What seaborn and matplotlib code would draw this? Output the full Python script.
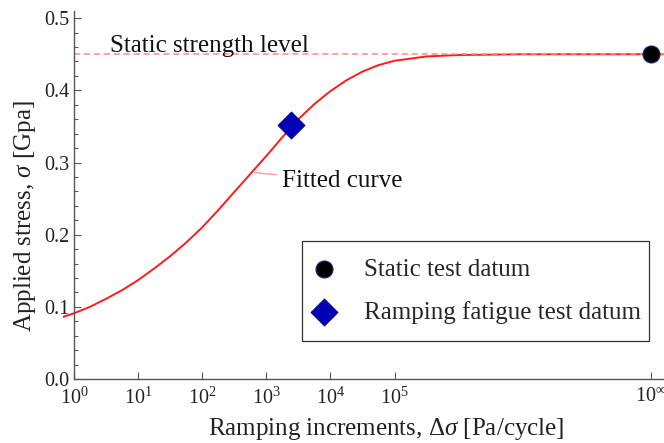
import numpy as np
import pandas as pd
import matplotlib
matplotlib.use('Agg')
import matplotlib.pyplot as plt
import matplotlib.ticker as mticker
import matplotlib.patches as mpatches
import seaborn as sns

# fitted curve (ramping increment in Pa/cycle, stress in GPa)
curve_increment = [0.676, 1.0, 1.78, 3.16, 5.62, 10, 17.8, 31.6, 56.2, 100, 178, 316, 562,
                   1000, 1780, 3160, 5620, 1.0e4, 1.78e4, 3.16e4, 5.62e4, 1.0e5, 3.16e5,
                   1.0e6, 1.0e7, 1.58e9]
curve_stress = [0.086, 0.091, 0.100, 0.111, 0.123, 0.137, 0.153, 0.170, 0.189, 0.210, 0.234,
                0.259, 0.284, 0.309, 0.335, 0.360, 0.381, 0.399, 0.414, 0.426, 0.435, 0.441,
                0.447, 0.449, 0.450, 0.450]

static_strength = 0.45
static_increment = [1.0e9]   # drawn at the "10^inf" tick
static_stress = [0.45]
ramp_increment = [2450]
ramp_stress = [0.352]

x_ticks = [1, 10, 100, 1000, 1e4, 1e5, 1e9]
x_tick_labels = ['$10^{0}$', '$10^{1}$', '$10^{2}$', '$10^{3}$', '$10^{4}$', '$10^{5}$', r'$10^{\infty}$']
y_ticks = [0.0, 0.1, 0.2, 0.3, 0.4, 0.5]

sns.set_style('ticks')
plt.rcParams['font.family'] = ['Liberation Serif', 'DejaVu Serif']
plt.rcParams['mathtext.fontset'] = 'custom'
plt.rcParams['mathtext.rm'] = 'Liberation Serif'
plt.rcParams['mathtext.it'] = 'Liberation Serif:italic'

fig = plt.figure(figsize=(6.64, 4.43), dpi=100)
ax = fig.add_axes([0.0949, 0.1445, 0.905, 0.8307])

curve = pd.DataFrame({'inc': curve_increment, 'stress': curve_stress})
sns.lineplot(data=curve, x='inc', y='stress', sort=False, color='#ff1a1a', lw=1.4, ax=ax)
ax.axhline(static_strength, xmin=0.018, xmax=1, color='#ff8a8a', lw=1.1, ls=(0, (4, 2.5)))

sns.scatterplot(x=static_increment, y=static_stress, marker='o', s=150, color='black',
                edgecolor='#1c2f6e', linewidth=0.8, label='Static test datum', ax=ax, zorder=5)
sns.scatterplot(x=ramp_increment, y=ramp_stress, marker='D', s=190, color='#0000b8',
                edgecolor='#00007a', linewidth=0.6, label='Ramping fatigue test datum', ax=ax, zorder=5)

ax.set_xscale('log')
ax.set_xlim(10 ** -0.17, 10 ** 9.2)
ax.set_ylim(0, 0.51)
ax.xaxis.set_major_locator(mticker.FixedLocator(x_ticks))
ax.xaxis.set_major_formatter(mticker.FixedFormatter(x_tick_labels))
ax.xaxis.set_minor_locator(mticker.NullLocator())
ax.set_yticks(y_ticks)
ax.yaxis.set_major_formatter(mticker.FormatStrFormatter('%.1f'))
ax.yaxis.set_minor_locator(mticker.MultipleLocator(0.02))

for s in ['top', 'right']:
    ax.spines[s].set_visible(False)
ax.spines['left'].set_position(('data', 1))
ax.spines['bottom'].set_bounds(1, 10 ** 9.2)
for s in ['left', 'bottom']:
    ax.spines[s].set_color('#555555')
    ax.spines[s].set_linewidth(1.0)
ax.tick_params(which='major', direction='in', length=5, width=0.8, color='#555555',
               labelsize=14.5, labelcolor='#222222')
ax.tick_params(which='minor', direction='in', length=3, width=0.8, color='#555555')
ax.tick_params(axis='x', pad=6)

ax.set_xlabel(r'Ramping increments, $\Delta\sigma$ [Pa/cycle]', fontsize=18, color='#222222')
ax.set_ylabel(r'Applied stress, $\sigma$ [Gpa]', fontsize=18, color='#222222')
ax.xaxis.set_label_coords(0.537, -0.1)
ax.yaxis.set_label_coords(-0.042, 0.443)

ax.text(3.6, 0.461, 'Static strength level', fontsize=18, ha='left', va='center', color='#111111')
ax.annotate('Fitted curve', xy=(653, 0.286), xytext=(1780, 0.274), fontsize=18,
            ha='left', va='center', color='#111111',
            arrowprops=dict(arrowstyle='-', color='#ff9a9a', lw=1.0, shrinkA=2, shrinkB=0))

# legend box drawn separately so its padding matches the original
box = mpatches.Rectangle((0.3977, 0.1033), 0.5773, 0.2717, transform=ax.transAxes,
                         facecolor='white', edgecolor='#333333', lw=0.9, zorder=6)
ax.add_patch(box)
leg = ax.legend(loc='center left', bbox_to_anchor=(0.3977, 0.2391), borderaxespad=0,
                fontsize=18, frameon=False, borderpad=0.4, labelspacing=0.8,
                handletextpad=1.08, handlelength=1.0)
leg.set_zorder(7)

fig.savefig('out.png', dpi=100)
